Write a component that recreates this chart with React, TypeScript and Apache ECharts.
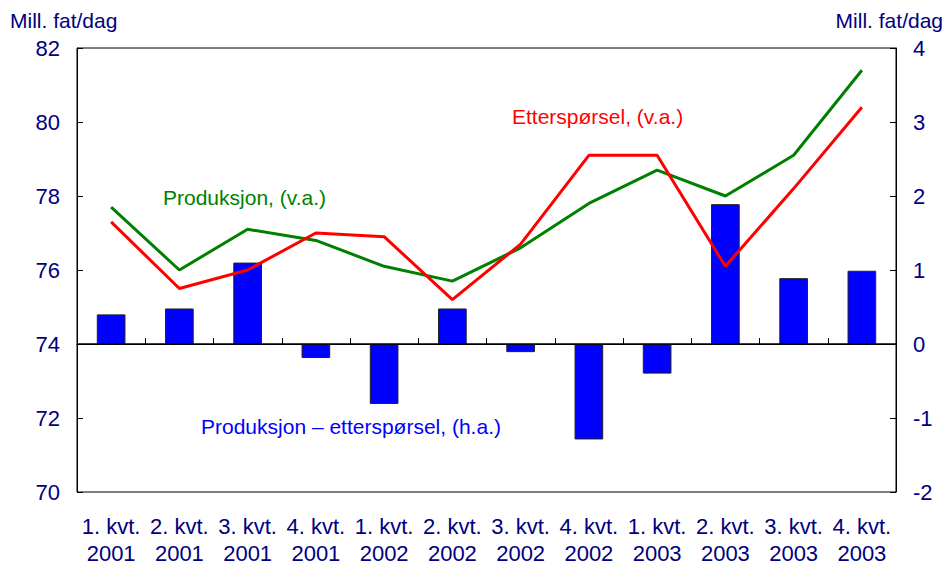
import React, { useEffect, useRef } from "react";
import * as echarts from "echarts";

const categories = [
  "1. kvt.\n2001", "2. kvt.\n2001", "3. kvt.\n2001", "4. kvt.\n2001",
  "1. kvt.\n2002", "2. kvt.\n2002", "3. kvt.\n2002", "4. kvt.\n2002",
  "1. kvt.\n2003", "2. kvt.\n2003", "3. kvt.\n2003", "4. kvt.\n2003",
];
const produksjon = [77.7, 76.0, 77.1, 76.8, 76.1, 75.7, 76.6, 77.8, 78.7, 78.0, 79.1, 81.4];
const etterspørsel = [77.3, 75.5, 76.0, 77.0, 76.9, 75.2, 76.7, 79.1, 79.1, 76.1, 78.2, 80.4];
const differanse = [0.4, 0.48, 1.1, -0.19, -0.81, 0.48, -0.11, -1.29, -0.4, 1.89, 0.89, 0.99];

const NAVY = "#000080";
const FONT = "Liberation Sans, Arial, sans-serif";

export default function App() {
  const ref = useRef<HTMLDivElement>(null);
  useEffect(() => {
    if (!ref.current) return;
    const chart = echarts.init(ref.current, undefined, { renderer: "svg" });
    chart.setOption({
      animation: false,
      backgroundColor: "#ffffff",
      textStyle: { fontFamily: FONT },
      grid: {
        left: 77, right: 53, top: 48, bottom: 73,
        show: true, borderColor: "#000", borderWidth: 1, backgroundColor: "transparent",
      },
      xAxis: {
        type: "category",
        data: categories,
        boundaryGap: true,
        axisLine: { lineStyle: { color: "#000", width: 1 } },
        axisTick: { show: true, inside: true, length: 6, lineStyle: { color: "#000" } },
        axisLabel: { color: NAVY, fontSize: 22, lineHeight: 27, margin: 21, fontFamily: FONT, interval: 0 },
        splitLine: { show: false },
      },
      yAxis: [
        {
          type: "value", min: 70, max: 82, interval: 2, position: "left",
          axisLine: { show: true, lineStyle: { color: "#000" } },
          axisTick: { show: true, inside: true, length: 6, lineStyle: { color: "#000" } },
          axisLabel: { color: NAVY, fontSize: 22, margin: 17, fontFamily: FONT },
          splitLine: { show: false },
        },
        {
          type: "value", min: -2, max: 4, interval: 1, position: "right",
          axisLine: { show: true, lineStyle: { color: "#000" } },
          axisTick: { show: true, inside: true, length: 6, lineStyle: { color: "#000" } },
          axisLabel: { color: NAVY, fontSize: 22, margin: 17, fontFamily: FONT },
          splitLine: { show: false },
        },
      ],
      series: [
        {
          name: "Produksjon – etterspørsel, (h.a.)",
          type: "bar",
          yAxisIndex: 1,
          data: differanse,
          barWidth: "42%",
          itemStyle: { color: "#0000ff", borderColor: "#222", borderWidth: 1 },
          markLine: {
            silent: true,
            symbol: "none",
            label: { show: false },
            lineStyle: { color: "#000", width: 1.5, type: "solid" },
            data: [{ yAxis: 0 }],
          },
        },
        {
          name: "Produksjon, (v.a.)",
          type: "line",
          yAxisIndex: 0,
          data: produksjon,
          symbol: "none",
          lineStyle: { color: "#008000", width: 3 },
          itemStyle: { color: "#008000" },
        },
        {
          name: "Etterspørsel, (v.a.)",
          type: "line",
          yAxisIndex: 0,
          data: etterspørsel,
          symbol: "none",
          lineStyle: { color: "#ff0000", width: 3 },
          itemStyle: { color: "#ff0000" },
        },
      ],
      graphic: [
        { type: "text", left: 10, top: 10, style: { text: "Mill. fat/dag", fill: NAVY, fontSize: 21, fontFamily: FONT } },
        { type: "text", right: 6, top: 10, style: { text: "Mill. fat/dag", fill: NAVY, fontSize: 21, fontFamily: FONT } },
        { type: "text", left: 163, top: 187, style: { text: "Produksjon, (v.a.)", fill: "#008000", fontSize: 21, fontFamily: FONT } },
        { type: "text", left: 512, top: 106, style: { text: "Etterspørsel, (v.a.)", fill: "#ff0000", fontSize: 21, fontFamily: FONT } },
        { type: "text", left: 201, top: 416, style: { text: "Produksjon – etterspørsel, (h.a.)", fill: "#0000ff", fontSize: 21, fontFamily: FONT } },
      ],
    });
    return () => chart.dispose();
  }, []);
  return (
    <div style={{ position: "fixed", left: 0, top: 0, width: 949, height: 567, overflow: "hidden" }}>
      <div ref={ref} style={{ width: 949, height: 567 }} />
    </div>
  );
}
